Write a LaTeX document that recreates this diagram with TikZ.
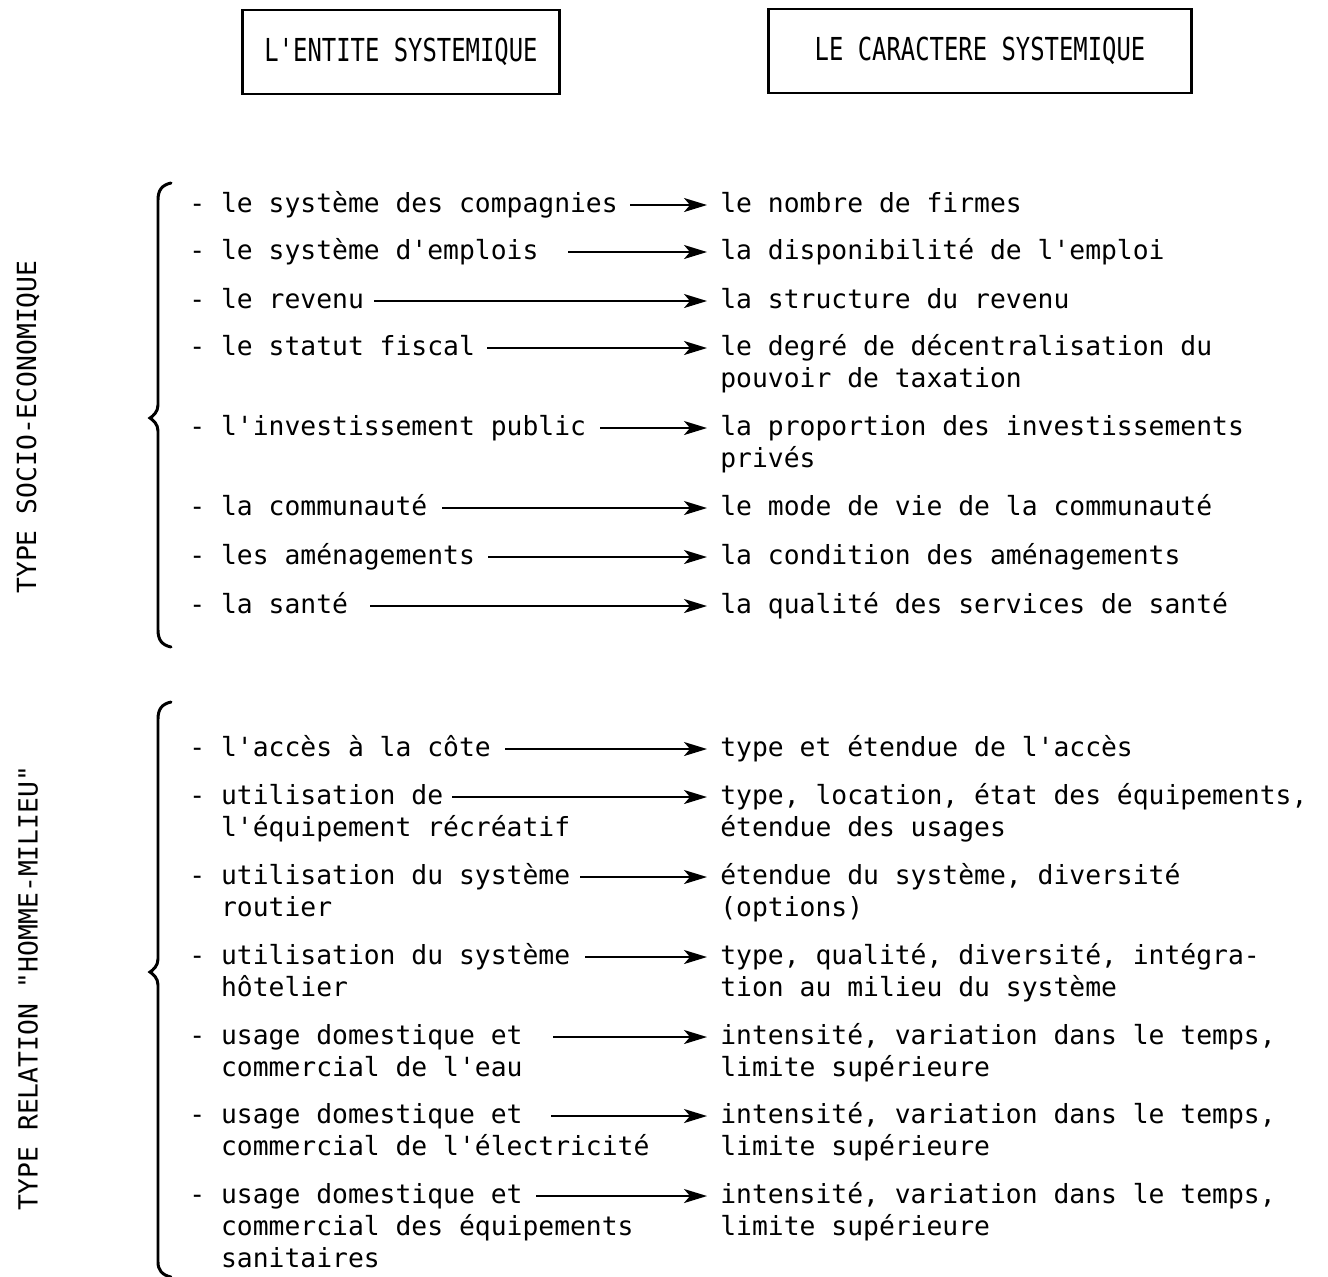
\documentclass[tikz,border=0pt]{standalone}
\usepackage{fontspec}
\setmonofont{DejaVu Sans Mono}
\usetikzlibrary{arrows.meta,positioning}

\begin{document}
\begin{tikzpicture}[
  x=0.02cm, y=-0.02cm,
  font=\ttfamily\fontsize{15}{18}\selectfont,
  txt/.style={inner sep=0pt, anchor=base west},
  head/.style={draw, line width=1.6pt, minimum width=#1, minimum height=1.68cm,
    font=\ttfamily\fontsize{18}{21}\selectfont\addfontfeatures{FakeStretch=0.755}},
  side/.style={rotate=90, inner sep=0pt},
  arr/.style={-{Stealth[length=4.6mm, width=2.8mm, inset=1.2mm]}, line width=1.1pt,
    shorten >=0.26cm},
  brc/.style={line width=1.7pt, line cap=round},
]
\useasboundingbox (0,0) rectangle (1328,1276);

% Headings
\node[head=6.34cm] (ent) at (401,52) {L'ENTITE SYSTEMIQUE};
\node[head=8.46cm] (car) at (980,51) {LE CARACTERE SYSTEMIQUE};

% Side labels
\node[side] (soc) at (28,427) {TYPE SOCIO-ECONOMIQUE};
\node[side] (hom) at (28,988) {TYPE RELATION "HOMME-MILIEU"};

% Braces
\draw[brc] (171,183) .. controls (162,185) and (158,190) .. (158,200)
  -- (158,405) .. controls (158,412) and (153,416) .. (150,418)
  .. controls (153,420) and (158,424) .. (158,431)
  -- (158,630) .. controls (158,640) and (162,645) .. (171,647);
\draw[brc] (171,702) .. controls (162,704) and (158,709) .. (158,719)
  -- (158,959) .. controls (158,966) and (153,970) .. (150,972)
  .. controls (153,974) and (158,978) .. (158,985)
  -- (158,1262) .. controls (158,1270) and (162,1275) .. (171,1277);

% Socio-economic entities
\node[txt] (e1) at (189,212) {- le système des compagnies};
\node[txt] (e2) at (189,259) {- le système d'emplois};
\node[txt] (e3) at (189,308) {- le revenu};
\node[txt] (e4) at (189,355) {- le statut fiscal};
\node[txt] (e5) at (189,435) {- l'investissement public};
\node[txt] (e6) at (189,515) {- la communauté};
\node[txt] (e7) at (189,564) {- les aménagements};
\node[txt] (e8) at (189,613) {- la santé};

% Socio-economic characters
\node[txt] (c1) at (720,212) {le nombre de firmes};
\node[txt] (c2) at (720,259) {la disponibilité de l'emploi};
\node[txt] (c3) at (720,308) {la structure du revenu};
\node[txt] (c4) at (720,355) {le degré de décentralisation du};
\node[txt, below=0.64cm of c4.base west, anchor=base west] (c4b) {pouvoir de taxation};
\node[txt] (c5) at (720,435) {la proportion des investissements};
\node[txt, below=0.64cm of c5.base west, anchor=base west] (c5b) {privés};
\node[txt] (c6) at (720,515) {le mode de vie de la communauté};
\node[txt] (c7) at (720,564) {la condition des aménagements};
\node[txt] (c8) at (720,613) {la qualité des services de santé};

% Man-environment entities
\node[txt] (m1) at (189,756) {- l'accès à la côte};
\node[txt] (m2) at (189,804) {- utilisation de};
\node[txt, below=0.64cm of m2.base west, anchor=base west] (m2b)
  {\hphantom{- }l'équipement récréatif};
\node[txt] (m3) at (189,884) {- utilisation du système};
\node[txt, below=0.64cm of m3.base west, anchor=base west] (m3b)
  {\hphantom{- }routier};
\node[txt] (m4) at (189,964) {- utilisation du système};
\node[txt, below=0.64cm of m4.base west, anchor=base west] (m4b)
  {\hphantom{- }hôtelier};
\node[txt] (m5) at (189,1044) {- usage domestique et};
\node[txt, below=0.64cm of m5.base west, anchor=base west] (m5b)
  {\hphantom{- }commercial de l'eau};
\node[txt] (m6) at (189,1123) {- usage domestique et};
\node[txt, below=0.64cm of m6.base west, anchor=base west] (m6b)
  {\hphantom{- }commercial de l'électricité};
\node[txt] (m7) at (189,1203) {- usage domestique et};
\node[txt, below=0.64cm of m7.base west, anchor=base west] (m7b)
  {\hphantom{- }commercial des équipements};
\node[txt, below=0.64cm of m7b.base west, anchor=base west] (m7c)
  {\hphantom{- }sanitaires};

% Man-environment characters
\node[txt] (k1) at (720,756) {type et étendue de l'accès};
\node[txt] (k2) at (720,804) {type, location, état des équipements,};
\node[txt, below=0.64cm of k2.base west, anchor=base west] (k2b) {étendue des usages};
\node[txt] (k3) at (720,884) {étendue du système, diversité};
\node[txt, below=0.64cm of k3.base west, anchor=base west] (k3b) {(options)};
\node[txt] (k4) at (720,964) {type, qualité, diversité, intégra-};
\node[txt, below=0.64cm of k4.base west, anchor=base west] (k4b) {tion au milieu du système};
\node[txt] (k5) at (720,1044) {intensité, variation dans le temps,};
\node[txt, below=0.64cm of k5.base west, anchor=base west] (k5b) {limite supérieure};
\node[txt] (k6) at (720,1123) {intensité, variation dans le temps,};
\node[txt, below=0.64cm of k6.base west, anchor=base west] (k6b) {limite supérieure};
\node[txt] (k7) at (720,1203) {intensité, variation dans le temps,};
\node[txt, below=0.64cm of k7.base west, anchor=base west] (k7b) {limite supérieure};

% Arrow starts
\coordinate (a1) at (630,205);
\coordinate (a2) at (568,252);
\coordinate (a3) at (374,301);
\coordinate (a4) at (487,348);
\coordinate (a5) at (600,428);
\coordinate (a6) at (442,508);
\coordinate (a7) at (488,557);
\coordinate (a8) at (370,606);
\coordinate (b1) at (505,749);
\coordinate (b2) at (452,797);
\coordinate (b3) at (580,877);
\coordinate (b4) at (585,957);
\coordinate (b5) at (553,1037);
\coordinate (b6) at (551,1116);
\coordinate (b7) at (536,1196);

% Arrows
\draw[arr] (a1) -- (a1 -| c1.west);
\draw[arr] (a2) -- (a2 -| c2.west);
\draw[arr] (a3) -- (a3 -| c3.west);
\draw[arr] (a4) -- (a4 -| c4.west);
\draw[arr] (a5) -- (a5 -| c5.west);
\draw[arr] (a6) -- (a6 -| c6.west);
\draw[arr] (a7) -- (a7 -| c7.west);
\draw[arr] (a8) -- (a8 -| c8.west);
\draw[arr] (b1) -- (b1 -| k1.west);
\draw[arr] (b2) -- (b2 -| k2.west);
\draw[arr] (b3) -- (b3 -| k3.west);
\draw[arr] (b4) -- (b4 -| k4.west);
\draw[arr] (b5) -- (b5 -| k5.west);
\draw[arr] (b6) -- (b6 -| k6.west);
\draw[arr] (b7) -- (b7 -| k7.west);
\end{tikzpicture}
\end{document}
